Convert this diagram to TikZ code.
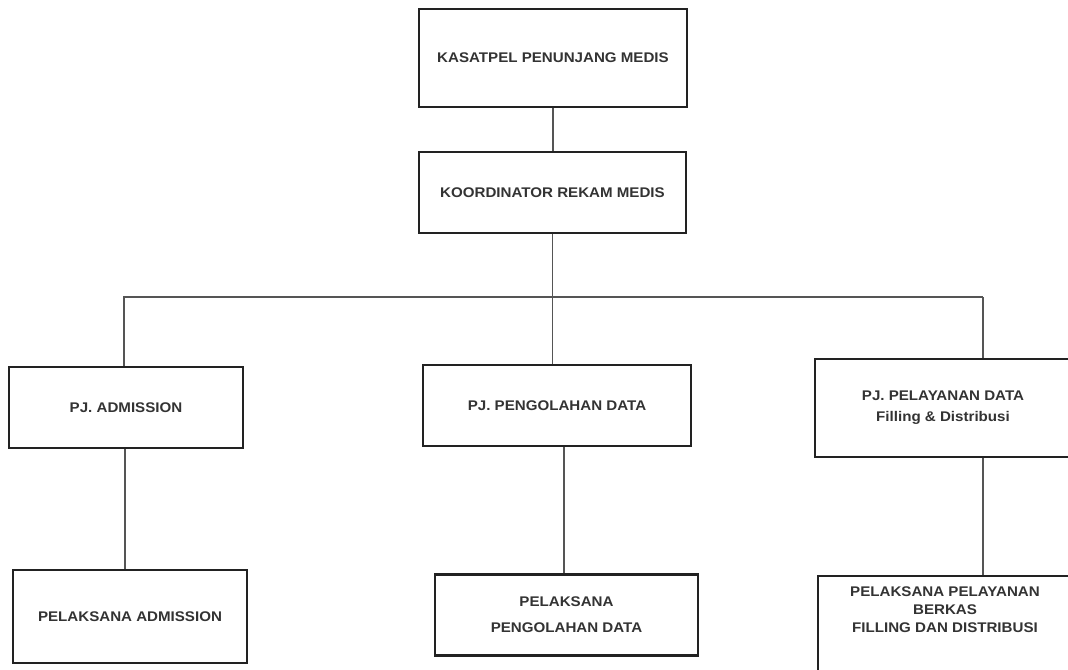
\documentclass[tikz,border=0pt]{standalone}
\usepackage{fontspec}
\newfontfamily\lab[FakeStretch=1.08]{Liberation Sans}
\definecolor{ink}{HTML}{333333}
\definecolor{frame}{HTML}{222222}
\definecolor{wire}{HTML}{555555}
\begin{document}
\begin{tikzpicture}[x=0.75pt,y=-0.75pt,
  box/.style={draw=frame,line width=2pt,rectangle,inner sep=0pt,align=center,
    text=ink,font=\lab\bfseries\fontsize{10.5}{15.75}\selectfont},
  lbl/.style={inner sep=0pt,align=center,text=ink,font=\lab\bfseries\fontsize{10.5}{13.5}\selectfont},
  wirestyle/.style={draw=wire,line width=1pt}]
\useasboundingbox (0,0) rectangle (1068,669);
\clip (0,0) rectangle (1068,669);
\fill[white] (0,0) rectangle (1068,669);
% boxes
\node[box,minimum width=201pt,minimum height=73.5pt] (top) at (553,58) {KASATPEL PENUNJANG MEDIS};
\node[box,minimum width=200.25pt,minimum height=60.75pt] (koord) at (552.5,192.5) {KOORDINATOR REKAM MEDIS};
\node[box,minimum width=175.5pt,minimum height=60.75pt] (adm) at (126,407.5) {PJ. ADMISSION};
\node[box,minimum width=201pt,minimum height=60.75pt] (peng) at (557,405.5) {PJ. PENGOLAHAN DATA};
\node[box,minimum width=192pt,minimum height=73.5pt] (pelay) at (943,408) {PJ. PELAYANAN DATA\\Filling \& Distribusi};
\node[box,minimum width=175.5pt,minimum height=69.75pt] (peladm) at (130,616.5) {PELAKSANA ADMISSION};
\node[box,minimum width=197.25pt,minimum height=60.75pt,font=\lab\bfseries\fontsize{10.5}{19.5}\selectfont] (pelpeng) at (566.5,615) {PELAKSANA\\PENGOLAHAN DATA};
\node[box,minimum width=190.5pt,minimum height=78pt] (pelpel) at (945,628) {};
\node[lbl] (pelpeltxt) at (945,610) {PELAKSANA PELAYANAN\\BERKAS\\FILLING DAN DISTRIBUSI};
% connectors
\coordinate (hb) at (553,297);
\coordinate (r) at (983,297);
\draw[wirestyle] (top.south) -- (top.south |- koord.north);
\draw[wirestyle] (koord.south) -- (koord.south |- hb);
\draw[wirestyle] (adm.north -| 124,0) |- (r);
\draw[wirestyle] (r) -- (r |- pelay.north);
\draw[wirestyle] (koord.south |- hb) -- (koord.south |- peng.north);
\draw[wirestyle] (adm.south -| 125,0) -- (peladm.north -| 125,0);
\draw[wirestyle] (peng.south -| 564,0) -- (pelpeng.north -| 564,0);
\draw[wirestyle] (r |- pelay.south) -- (r |- pelpel.north);
\end{tikzpicture}
\end{document}
